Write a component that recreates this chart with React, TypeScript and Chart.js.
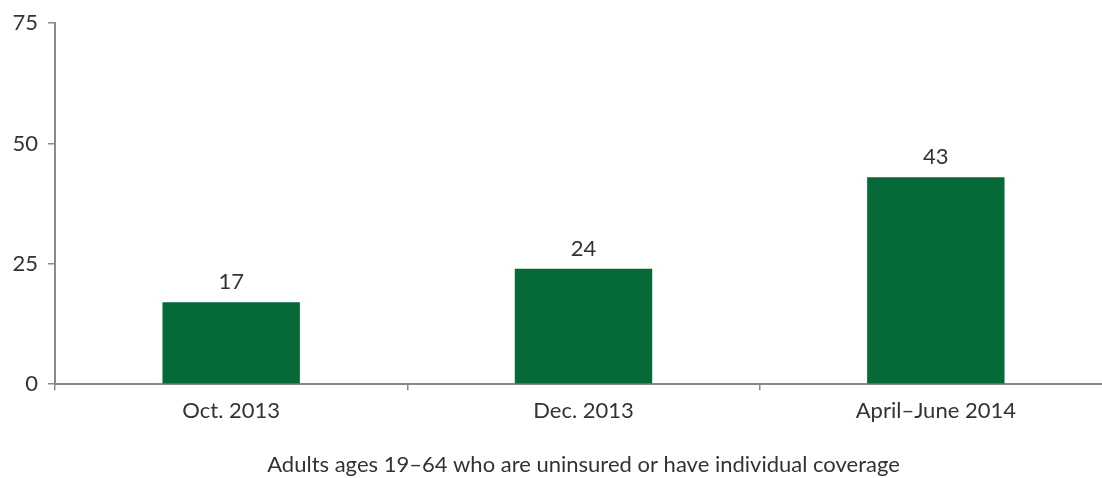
import React, { useEffect, useRef } from "react";
import { Chart, registerables } from "chart.js";

Chart.register(...registerables);

const categories = ["Oct. 2013", "Dec. 2013", "April–June 2014"];
const values = [17, 24, 43];
const yTicks = [0, 25, 50, 75];
const xTitle = "Adults ages 19–64 who are uninsured or have individual coverage";

const FONT = "Lato, 'Noto Sans', sans-serif";
const TEXT = "#333333";
const AXIS = "#8a8a8a";
const BAR = "#066a38";

const labelPlugin = {
  id: "barLabels",
  afterDatasetsDraw(chart: any) {
    const ctx = chart.ctx;
    const meta = chart.getDatasetMeta(0);
    ctx.save();
    ctx.font = `22px ${FONT}`;
    ctx.fillStyle = TEXT;
    ctx.textAlign = "center";
    ctx.textBaseline = "bottom";
    meta.data.forEach((el: any, i: number) => {
      ctx.fillText(String(values[i]), el.x, el.y - 9);
    });
    ctx.restore();
  },
};

export default function App() {
  const ref = useRef<HTMLCanvasElement | null>(null);
  useEffect(() => {
    if (!ref.current) return;
    const chart = new Chart(ref.current, {
      type: "bar",
      data: {
        labels: categories,
        datasets: [
          {
            data: values,
            backgroundColor: BAR,
            categoryPercentage: 1,
            barPercentage: 0.39,
          },
        ],
      },
      options: {
        animation: false,
        responsive: false,
        maintainAspectRatio: false,
        layout: { padding: { top: 12, right: 8, left: 0, bottom: 0 } },
        plugins: {
          legend: { display: false },
          tooltip: { enabled: false },
        },
        scales: {
          x: {
            grid: {
              offset: true,
              drawOnChartArea: false,
              drawTicks: true,
              tickLength: 6,
              color: AXIS,
              lineWidth: 1.5,
            },
            border: { color: AXIS, width: 2 },
            ticks: { color: TEXT, font: { family: FONT, size: 22 }, padding: 8 },
            title: {
              display: true,
              text: xTitle,
              color: TEXT,
              font: { family: FONT, size: 22 },
              padding: { top: 19, bottom: 0 },
            },
          },
          y: {
            min: 0,
            max: 75,
            afterBuildTicks(scale: any) {
              scale.ticks = yTicks.map((v) => ({ value: v }));
            },
            afterFit(scale: any) {
              scale.width = 55;
            },
            grid: {
              drawOnChartArea: false,
              drawTicks: true,
              tickLength: 7,
              color: AXIS,
              lineWidth: 1.5,
            },
            border: { color: AXIS, width: 2 },
            ticks: { color: TEXT, font: { family: FONT, size: 22 }, padding: 10 },
          },
        },
      },
      plugins: [labelPlugin],
    });
    return () => chart.destroy();
  }, []);
  return (
    <div
      style={{
        position: "absolute",
        left: 0,
        top: 0,
        width: 1102,
        height: 478,
        overflow: "hidden",
        background: "#ffffff",
      }}
    >
      <canvas ref={ref} width={1120} height={478} style={{ display: "block" }} />
    </div>
  );
}
